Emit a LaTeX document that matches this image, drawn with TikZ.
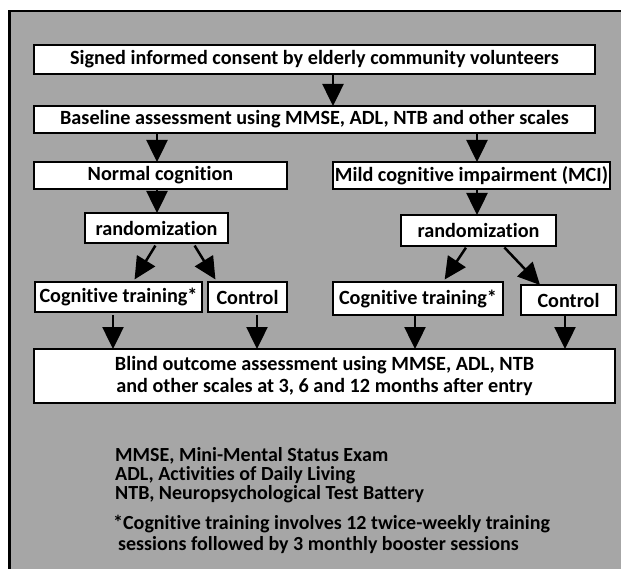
\documentclass[tikz,border=0pt]{standalone}
\usepackage{fontspec}
\setmainfont{Carlito}[Ligatures={NoCommon}]
\usetikzlibrary{arrows.meta}
\definecolor{bggray}{RGB}{166,166,166}
\begin{document}
\begin{tikzpicture}[x=1pt,y=-1pt,
  box/.style={draw=black,fill=white,line width=1.3pt,inner sep=0pt,outer sep=0pt,
    font=\fontsize{20.2}{22}\selectfont\bfseries,align=center},
  note/.style={anchor=west,inner sep=0pt,font=\fontsize{20}{20}\selectfont\bfseries,
    text height=13pt,text depth=4pt},
  arr/.style={line width=2.5pt,-{Triangle[width=21pt,length=22pt]}},
]
\useasboundingbox (0,0) rectangle (621,569);
\fill[white] (0,0) rectangle (621,569);
\fill[bggray] (9,11) rectangle (621,569);
\draw[line width=2.7pt] (9.3,569) -- (9.3,11) -- (621,11);

\node[box,minimum width=561pt,minimum height=29pt] (consent) at (314.5,59.5) {Signed informed consent by elderly community volunteers};
\node[box,minimum width=561pt,minimum height=27pt] (baseline) at (314.5,119.5) {Baseline assessment using MMSE, ADL, NTB and other scales};
\node[box,minimum width=253pt,minimum height=27pt] (normal) at (160.5,175.5) {Normal cognition};
\node[box,minimum width=277pt,minimum height=27pt] (mci) at (471.5,175.5) {Mild cognitive impairment (MCI)};
\node[box,minimum width=143pt,minimum height=30pt] (rand1) at (156.5,228) {randomization};
\node[box,minimum width=155pt,minimum height=31pt] (rand2) at (478.5,230.5) {randomization};
\node[box,minimum width=167pt,minimum height=30pt] (ct1) at (118.5,297) {Cognitive training*};
\node[box,minimum width=79pt,minimum height=30pt] (ctrl1) at (247.5,297) {Control};
\node[box,minimum width=170pt,minimum height=33pt] (ct2) at (418,298.5) {Cognitive training*};
\node[box,minimum width=95pt,minimum height=30pt] (ctrl2) at (568.5,300) {Control};
\node[box,minimum width=581pt,minimum height=54pt] (blind) at (324.5,376) {Blind outcome assessment using MMSE, ADL, NTB\\and other scales at 3, 6 and 12 months after entry};

\draw[arr] (consent.south -| 333,0) -- (baseline.north -| 333,0);
\draw[arr] (baseline.south -| 157,0) -- (normal.north -| 157,0);
\draw[arr] (baseline.south -| 477,0) -- (mci.north -| 477,0);
\draw[arr] (normal.south -| 157,0) -- (rand1.north -| 157,0);
\draw[arr] (mci.south -| 477,0) -- (rand2.north -| 477,0);
\draw[arr,shorten <=3pt,shorten >=3pt] (rand1.south -| 157,0) -- (ct1.north -| 133,0);
\draw[arr,shorten <=3pt,shorten >=3pt] (rand1.south -| 193,0) -- (ctrl1.north -| 217,0);
\draw[arr,shorten <=2pt,shorten >=3pt] (rand2.south -| 467,0) -- (ct2.north -| 443,0);
\draw[arr,shorten <=2pt] (rand2.south -| 503,0) -- (ctrl2.north -| 540,0);
\draw[arr,shorten <=3pt] (ct1.south -| 113,0) -- (blind.north -| 113,0);
\draw[arr,shorten <=3pt] (ctrl1.south -| 257,0) -- (blind.north -| 257,0);
\draw[arr] (ct2.south -| 415,0) -- (blind.north -| 415,0);
\draw[arr] (ctrl2.south -| 565,0) -- (blind.north -| 565,0);

\node[note] (n1) at (115,457) {MMSE, Mini-Mental Status Exam};
\node[note] (n2) at (115,476) {ADL, Activities of Daily Living};
\node[note] (n3) at (115,495) {NTB, Neuropsychological Test Battery};
\node[note] (n4) at (113,525) {*Cognitive training involves 12 twice-weekly training};
\node[note] (n5) at (118,546) {sessions followed by 3 monthly booster sessions};
\end{tikzpicture}
\end{document}
